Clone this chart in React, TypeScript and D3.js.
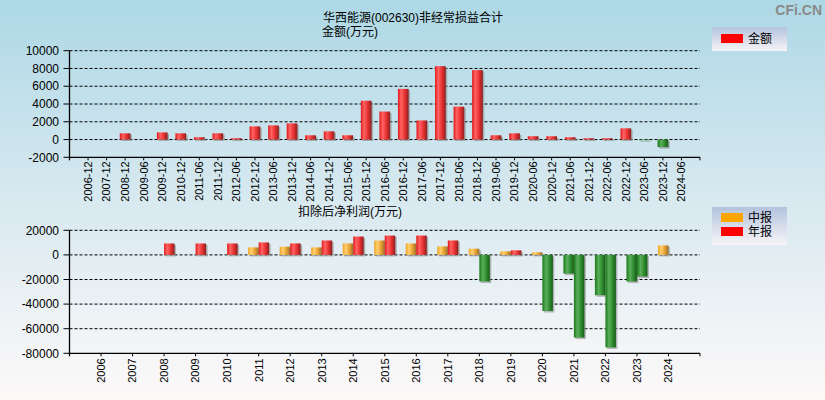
import React from "react";
import * as d3 from "d3";

const topCategories = [
  "2006-12", "2007-12", "2008-12", "2009-06", "2009-12", "2010-12", "2011-06", "2011-12",
  "2012-06", "2012-12", "2013-06", "2013-12", "2014-06", "2014-12", "2015-06", "2015-12",
  "2016-06", "2016-12", "2017-06", "2017-12", "2018-06", "2018-12", "2019-06", "2019-12",
  "2020-06", "2020-12", "2021-06", "2021-12", "2022-06", "2022-12", "2023-06", "2023-12", "2024-06",
];
const topValues: (number | null)[] = [
  null, null, 700, null, 800, 700, 260, 700,
  150, 1480, 1590, 1815, 480, 925, 480, 4370,
  3150, 5700, 2150, 8260, 3700, 7815, 480, 700,
  370, 370, 260, 150, 150, 1260, -80, -850, null,
];
const topTicks = [-2000, 0, 2000, 4000, 6000, 8000, 10000];

const years = [
  "2006", "2007", "2008", "2009", "2010", "2011", "2012", "2013", "2014", "2015",
  "2016", "2017", "2018", "2019", "2020", "2021", "2022", "2023", "2024",
];
const midValues: (number | null)[] = [
  null, null, null, null, null, 6130, 6670, 6130, 9330, 11730,
  9330, 6930, 5070, 2930, 2130, -15200, -32800, -21600, 7730,
];
const annualValues: (number | null)[] = [
  null, null, 9300, 9300, 9300, 10130, 9330, 11730, 14930, 15730,
  15730, 11730, -21600, 3730, -45600, -67200, -75200, -17600, null,
];
const bottomTicks = [-80000, -60000, -40000, -20000, 0, 20000];

const FONT = "'Liberation Sans', Arial, 'Noto Sans CJK SC', sans-serif";

const X0 = 69.5;
const X1 = 700;

function Bar({ x, w, y0, y1, neg, grad }: { x: number; w: number; y0: number; y1: number; neg: boolean; grad: string }) {
  const top = Math.min(y0, y1);
  const h = Math.abs(y1 - y0);
  return (
    <g>
      <rect x={x + 1.5} y={top + 1.5} width={w} height={h} fill="#8a8a8a" opacity={0.6} />
      <rect x={x} y={top} width={w} height={h} fill={`url(#${neg ? "gGreen" : grad})`} />
    </g>
  );
}

export default function App() {
  const xTop = d3.scalePoint<string>().domain(topCategories).range([X0, X1]).padding(1);
  const yTop = d3.scaleLinear().domain([-2000, 10000]).range([157.3, 50.7]);
  const topBarW = 10.7;

  const xBot = d3.scalePoint<string>().domain(years).range([X0, X1]).padding(1);
  const yBot = d3.scaleLinear().domain([-80000, 20000]).range([353.3, 230.3]);
  const botBarW = 10.5;

  return (
    <svg
      width={825}
      height={400}
      style={{ position: "absolute", left: 0, top: 0, fontFamily: FONT }}
    >
      <defs>
        <linearGradient id="bg" x1="0" y1="0" x2="0" y2="1">
          <stop offset="0" stopColor="#add8e6" />
          <stop offset="0.5" stopColor="#d8e9f0" />
          <stop offset="1" stopColor="#fdf9f9" />
        </linearGradient>
        <linearGradient id="legBg" x1="0" y1="0" x2="0" y2="1">
          <stop offset="0" stopColor="#b3c3de" />
          <stop offset="1" stopColor="#f7f4f7" />
        </linearGradient>
        <linearGradient id="gRed" x1="0" y1="0" x2="1" y2="0">
          <stop offset="0" stopColor="#e01818" />
          <stop offset="0.3" stopColor="#ff6464" />
          <stop offset="0.65" stopColor="#e83030" />
          <stop offset="1" stopColor="#8c2020" />
        </linearGradient>
        <linearGradient id="gOrange" x1="0" y1="0" x2="1" y2="0">
          <stop offset="0" stopColor="#f0a020" />
          <stop offset="0.3" stopColor="#ffd070" />
          <stop offset="0.65" stopColor="#e8a030" />
          <stop offset="1" stopColor="#9a7030" />
        </linearGradient>
        <linearGradient id="gGreen" x1="0" y1="0" x2="1" y2="0">
          <stop offset="0" stopColor="#1a7a1a" />
          <stop offset="0.35" stopColor="#5cae5c" />
          <stop offset="0.7" stopColor="#2a8a2a" />
          <stop offset="1" stopColor="#1a5a1a" />
        </linearGradient>
      </defs>
      <rect x={0} y={0} width={825} height={400} fill="url(#bg)" />

      <text x={822} y={15} textAnchor="end" fontSize={14} fontWeight="bold" fill="#8a8a8a">CFi.CN</text>

      <text x={323} y={22} fontSize={12} fill="#000">华西能源(002630)非经常损益合计</text>
      <text x={322} y={36} fontSize={12} fill="#000">金额(万元)</text>

      {topTicks.map((t) => (
        <g key={"tt" + t}>
          {t !== -2000 && (
            <line x1={X0} x2={X1} y1={yTop(t)} y2={yTop(t)} stroke="#000" strokeDasharray="3,2" strokeWidth={1} />
          )}
          <line x1={X0 - 6} x2={X0} y1={yTop(t)} y2={yTop(t)} stroke="#000" />
          <text x={59} y={yTop(t)} dy="0.35em" textAnchor="end" fontSize={12} fill="#000">{t}</text>
        </g>
      ))}
      {topCategories.map((c, i) => {
        const v = topValues[i];
        if (v === null) return null;
        const cx = xTop(c)!;
        return <Bar key={"tb" + c} x={cx - topBarW / 2} w={topBarW} y0={yTop(0)} y1={yTop(v)} neg={v < 0} grad="gRed" />;
      })}
      <line x1={X0} x2={X0} y1={yTop(10000)} y2={yTop(-2000) + 3} stroke="#000" strokeWidth={1.3} />
      <line x1={X0} x2={X1} y1={yTop(-2000)} y2={yTop(-2000)} stroke="#000" strokeWidth={1.3} />
      <line x1={X1} x2={X1} y1={yTop(-2000)} y2={yTop(-2000) + 3} stroke="#000" />
      {topCategories.map((c) => {
        const cx = xTop(c)!;
        return (
          <g key={"tx" + c}>
            <line x1={cx} x2={cx} y1={yTop(-2000)} y2={yTop(-2000) + 3} stroke="#000" />
            <text
              transform={`translate(${cx},${yTop(-2000) + 4}) rotate(-90)`}
              textAnchor="end"
              dy="0.35em"
              fontSize={11}
              fill="#000"
            >
              {c}
            </text>
          </g>
        );
      })}

      <rect x={712} y={27} width={75} height={24} fill="url(#legBg)" />
      <rect x={721} y={34} width={22} height={9} fill="#ff0000" />
      <text x={748} y={38.5} dy="0.35em" fontSize={12} fill="#000">金额</text>

      <text x={298} y={216} fontSize={12} fill="#000">扣除后净利润(万元)</text>

      {bottomTicks.map((t) => (
        <g key={"bt" + t}>
          {t !== -80000 && (
            <line x1={X0} x2={X1} y1={yBot(t)} y2={yBot(t)} stroke="#000" strokeDasharray="3,2" strokeWidth={1} />
          )}
          <line x1={X0 - 6} x2={X0} y1={yBot(t)} y2={yBot(t)} stroke="#000" />
          <text x={59} y={yBot(t)} dy="0.35em" textAnchor="end" fontSize={12} fill="#000">{t}</text>
        </g>
      ))}
      {years.map((yr, i) => {
        const cx = xBot(yr)!;
        const m = midValues[i];
        const a = annualValues[i];
        return (
          <g key={"bb" + yr}>
            {m !== null && (
              <Bar x={cx - botBarW} w={botBarW} y0={yBot(0)} y1={yBot(m)} neg={m < 0} grad="gOrange" />
            )}
            {a !== null && (
              <Bar x={cx} w={botBarW} y0={yBot(0)} y1={yBot(a)} neg={a < 0} grad="gRed" />
            )}
          </g>
        );
      })}
      <line x1={X0} x2={X0} y1={yBot(20000)} y2={yBot(-80000) + 3} stroke="#000" strokeWidth={1.3} />
      <line x1={X0} x2={X1} y1={yBot(-80000)} y2={yBot(-80000)} stroke="#000" strokeWidth={1.3} />
      <line x1={X1} x2={X1} y1={yBot(-80000)} y2={yBot(-80000) + 3} stroke="#000" />
      {years.map((yr) => {
        const cx = xBot(yr)!;
        return (
          <g key={"bx" + yr}>
            <line x1={cx} x2={cx} y1={yBot(-80000)} y2={yBot(-80000) + 3} stroke="#000" />
            <text
              transform={`translate(${cx},${yBot(-80000) + 5}) rotate(-90)`}
              textAnchor="end"
              dy="0.35em"
              fontSize={11}
              fill="#000"
            >
              {yr}
            </text>
          </g>
        );
      })}

      <rect x={712} y={207} width={75} height={38} fill="url(#legBg)" />
      <rect x={721} y={213} width={22} height={9} fill="#ffa500" />
      <text x={748} y={217.5} dy="0.35em" fontSize={12} fill="#000">中报</text>
      <rect x={721} y={227} width={22} height={9} fill="#ff0000" />
      <text x={748} y={231.5} dy="0.35em" fontSize={12} fill="#000">年报</text>
    </svg>
  );
}
